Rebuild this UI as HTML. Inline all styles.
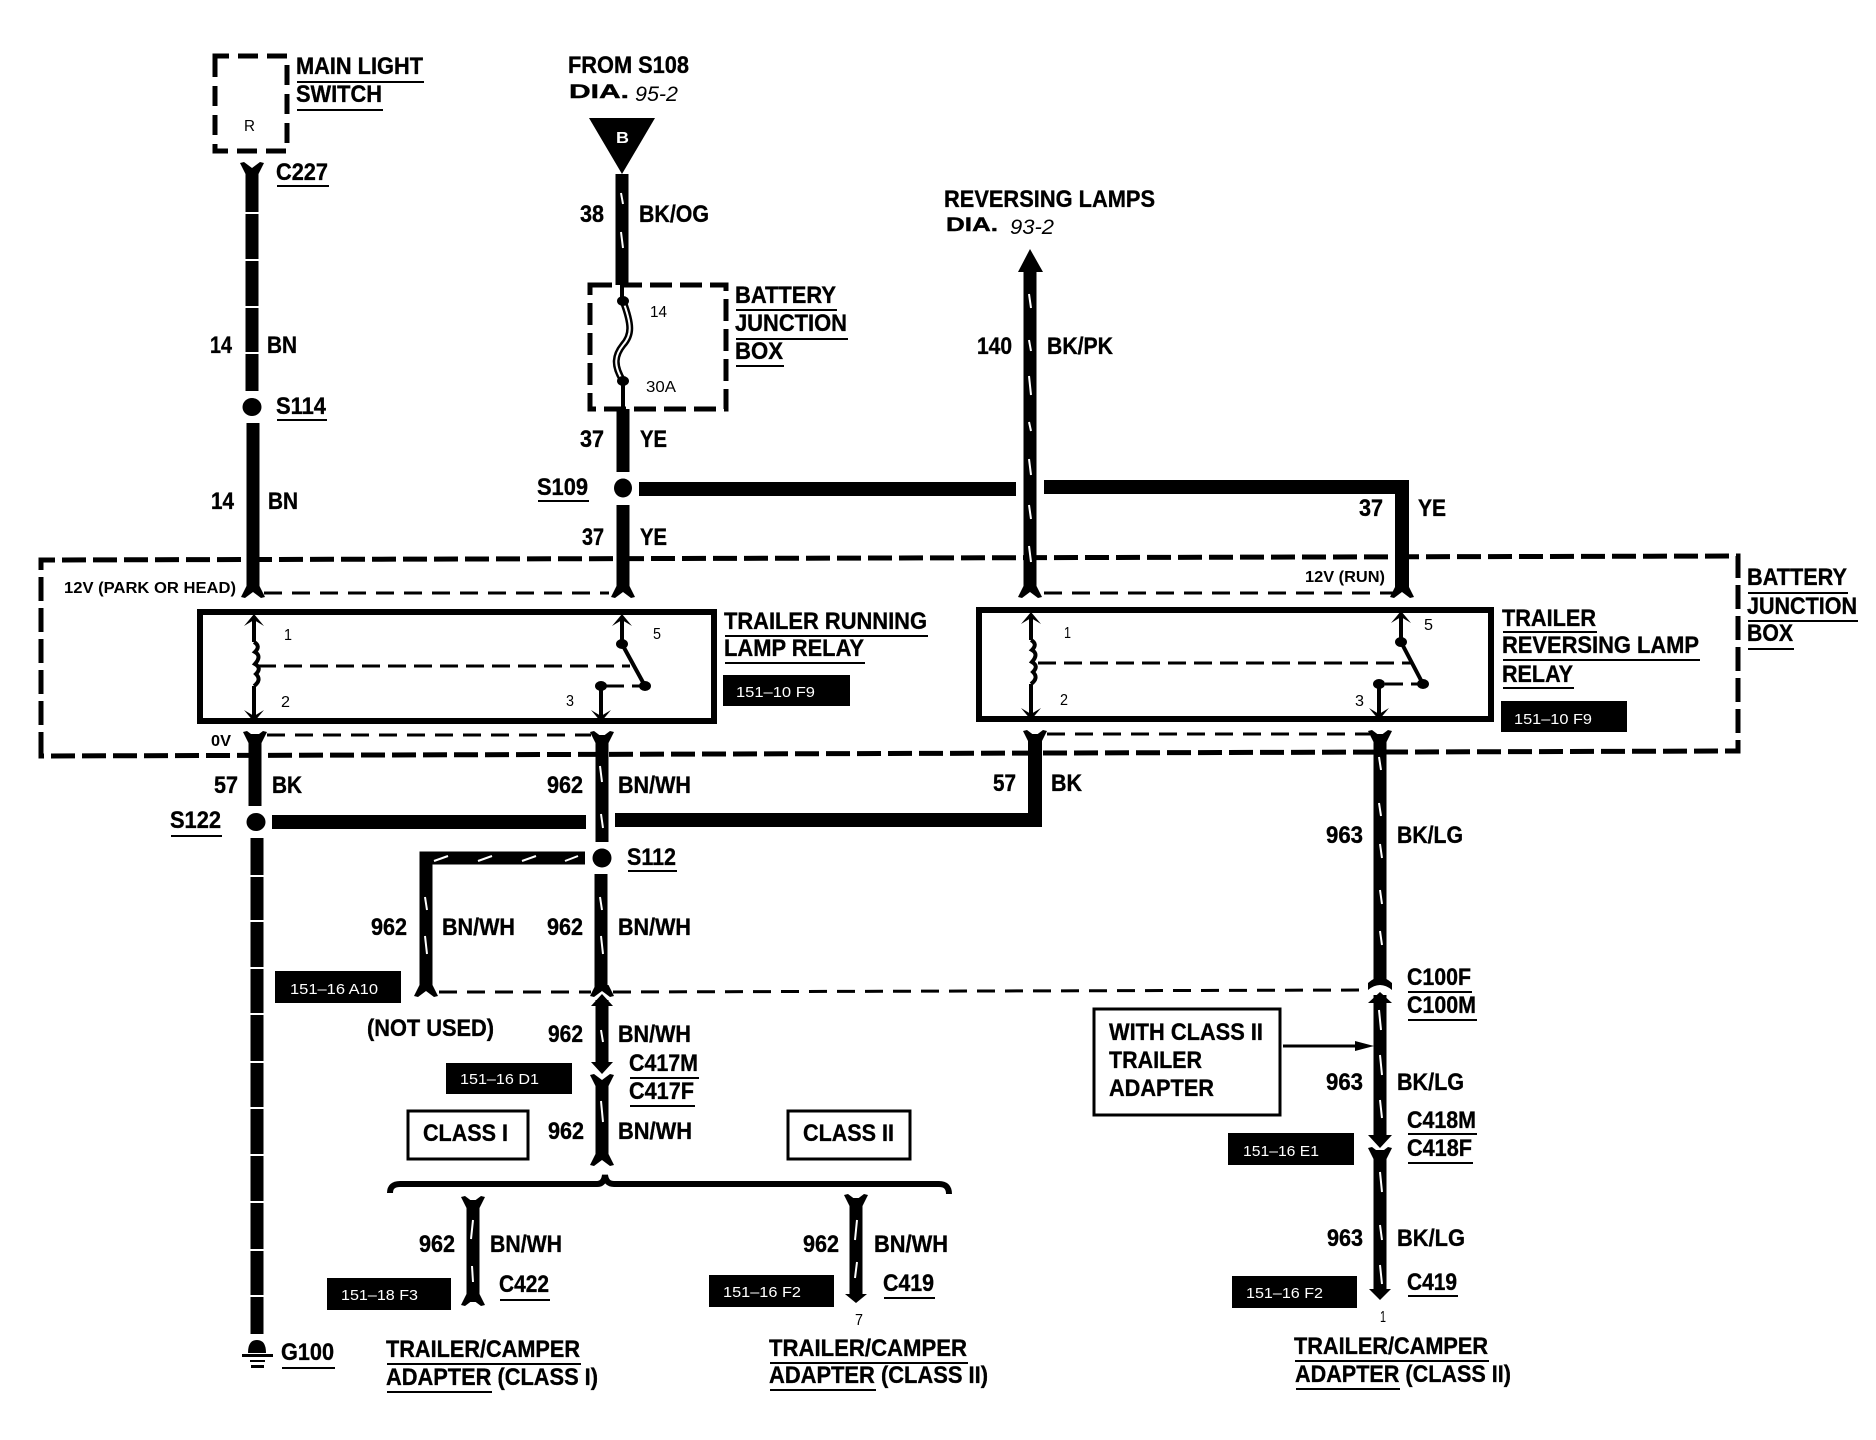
<!DOCTYPE html>
<html><head><meta charset="utf-8"><title>Trailer wiring diagram</title>
<style>
html,body{margin:0;padding:0;background:#fff}
svg{display:block}
text{font-family:"Liberation Sans",sans-serif;fill:#000}
.t{font-size:24px;font-weight:bold;stroke:#000;stroke-width:.35px}
.m{font-size:19px;font-weight:bold;stroke:#000;stroke-width:.4px}
.s{font-size:16px}
.b{font-size:15px;fill:#fff}
.i{font-size:21px;font-style:italic}
</style></head><body>
<svg width="1876" height="1440" viewBox="0 0 1876 1440" xmlns="http://www.w3.org/2000/svg">
<defs>
<path id="ft" d="M-12,-7 L-8,-8 L0,-2 L8,-8 L12,-7 L6.5,4 L-6.5,4Z"/>
<path id="fb" d="M-12,7 L-8,8 L0,2 L8,8 L12,7 L6.5,-4 L-6.5,-4Z"/>
</defs>
<rect width="1876" height="1440" fill="#fff"/>

<!-- dashed boxes -->
<g fill="none" stroke="#000">
<path d="M215,62 V56 H287 V151 H215 Z" stroke-width="5" stroke-dasharray="20 9"/>
<path d="M590,285 H726 V409 H590 Z" stroke-width="5" stroke-dasharray="22 8"/>
<path d="M41,756 V560 L1738,556 V751 Z" stroke-width="5" stroke-dasharray="24 7"/>
<path d="M264,593 H609 M1044,593 H1395 M267,735 H591 M1047,734 H1370 M439,992 H591 M613,992 L1368,990" stroke-width="3" stroke-dasharray="18 10"/>
<path d="M258,666 H630 M1038,663 H1413 M606,686 H640 M1385,684 H1418" stroke-width="3" stroke-dasharray="18 8"/>
</g>

<!-- relays & boxes -->
<g fill="none" stroke="#000">
<rect x="200" y="612" width="514" height="109" stroke-width="6"/>
<rect x="979" y="610" width="512" height="109" stroke-width="6"/>
<rect x="408" y="1111" width="120" height="48" stroke-width="3"/>
<rect x="788" y="1111" width="122" height="48" stroke-width="3"/>
<rect x="1094" y="1009" width="186" height="106" stroke-width="3"/>
</g>

<!-- thick wires -->
<g stroke="#000" fill="none">
<path stroke-width="13" d="M252,168 V391 M253,423 V592"/>
<path stroke-width="13" d="M622,174 V285 M623,409 V472 M623,505 V592"/>
<path stroke-width="13" d="M1030,270 V592"/>
<path stroke-width="14" d="M639,489 H1016 M1044,487 H1402 V592"/>
<path stroke-width="13" d="M255,734 V806 M257,838 V1334"/>
<path stroke-width="13" d="M602,735 V842 M601,874 V991"/>
<path stroke-width="14" d="M272,822 H586 M615,820 H1035 V734"/>
<path stroke-width="13" d="M585,858 H426 V991"/>
<path stroke-width="13" d="M602,1000 V1064 M602,1083 V1160"/>
<path stroke-width="13" d="M473,1200 V1302 M856,1198 V1296"/>
<path stroke-width="13" d="M1380,734 V984 M1380,995 V1137 M1380,1150 V1291"/>
<path stroke-width="6" d="M390,1193 Q390,1184 400,1184 H597 Q604,1184 605,1175 Q606,1184 614,1184 H939 Q949,1184 949,1194"/>
<path stroke-width="4" d="M622,285 V301 M623,381 V409"/>
<path stroke-width="7" d="M623,301 C632,325 632,335 623,345 C615,355 613,365 623,381"/>
<path stroke-width="2" stroke="#fff" d="M623,301 C632,325 632,335 623,345 C615,355 613,365 623,381"/>
<path stroke-width="4" d="M254,618 V642 M254,686 V716 M622,618 V644 M601,686 V718 M1031,616 V640 M1031,684 V714 M1401,614 V642 M1379,684 V716"/>
<path stroke-width="4" d="M622,644 L645,686 M1401,642 L1423,684"/>
<path stroke-width="4" d="M254,642 q7,4 1,10 q7,4 0,12 q7,4 1,10 q6,6 -2,12 M1031,640 q7,4 1,10 q7,4 0,12 q7,4 1,10 q6,6 -2,12"/>
<path stroke-width="3" d="M1283,1046 H1358"/>
</g>
<!-- wire gaps -->
<g stroke="#fff" stroke-width="2">
<path d="M240,213 H264 M240,260 H264 M240,307 H264 M240,353 H264"/>
<path d="M247,876 H268 M247,921 H268 M247,968 H268 M247,1014 H268 M247,1062 H268 M247,1108 H268 M247,1155 H268 M247,1202 H268 M247,1250 H268 M247,1296 H268"/>
</g>
<!-- white slashes -->
<g stroke="#fff" stroke-width="2" fill="none">
<path d="M621,193 L623,204 M621,232 L623,248"/>
<path d="M1029,294 L1031,308 M1029,340 L1031,351 M1029,376 L1031,395 M1029,422 L1031,431 M1029,459 L1031,475 M1029,505 L1031,519 M1029,546 L1031,562"/>
<path d="M600,766 L602,782 M601,814 L603,828 M600,897 L602,910 M601,936 L603,954"/>
<path d="M425,897 L427,910 M425,936 L427,954"/>
<path d="M434,861 L448,856 M478,861 L492,856 M522,861 L536,856 M565,861 L578,856"/>
<path d="M601,1030 L603,1042 M601,1101 L603,1122"/>
<path d="M473,1220 L471,1239 M472,1266 L473,1282 M857,1220 L855,1240 M857,1262 L855,1278"/>
<path d="M1379,757 L1381,770 M1379,803 L1381,816 M1380,844 L1382,858 M1380,890 L1382,904 M1380,931 L1382,945 M1379,1010 L1381,1030 M1380,1055 L1382,1075 M1380,1100 L1382,1118 M1380,1172 L1382,1192 M1380,1225 L1382,1240 M1380,1265 L1382,1284"/>
</g>
<!-- forks, arrowheads, dots -->
<g fill="#000">
<use href="#ft" x="252" y="170"/>
<use href="#fb" x="253" y="590"/>
<use href="#fb" x="623" y="590"/>
<use href="#fb" x="1030" y="590"/>
<use href="#fb" x="1402" y="590"/>
<use href="#ft" x="255" y="739"/>
<use href="#ft" x="602" y="739"/>
<use href="#ft" x="1035" y="738"/>
<use href="#ft" x="1380" y="738"/>
<use href="#fb" x="426" y="989"/>
<use href="#fb" x="602" y="989"/>
<use href="#ft" x="602" y="1082"/>
<use href="#fb" x="602" y="1158"/>
<use href="#ft" x="473" y="1204"/>
<use href="#fb" x="473" y="1298"/>
<use href="#ft" x="856" y="1202"/>
<use href="#ft" x="1380" y="1155"/>
<path d="M1368,983 Q1380,972 1392,983 L1392,990 Q1380,980 1368,990Z"/>
<path d="M589,118 H655 L622,174Z"/>
<path d="M1030,249 L1043,272 H1018Z"/>
<path d="M602,994 L613,1006 H591Z"/>
<path d="M591,1062 H613 L602,1074Z"/>
<path d="M1380,992 L1392,1003 H1368Z"/>
<path d="M1368,1135 H1392 L1380,1148Z"/>
<path d="M1369,1289 H1391 L1380,1300Z"/>
<path d="M845,1294 H867 L856,1303Z"/>
<path d="M1355,1041 L1374,1046 L1355,1051Z"/>
<path d="M254,614 L264,626 L254,620 L244,626Z M254,722 L264,710 L254,716 L244,710Z"/>
<path d="M622,614 L632,626 L622,620 L612,626Z M601,722 L611,710 L601,716 L591,710Z"/>
<path d="M1031,612 L1041,624 L1031,618 L1021,624Z M1031,720 L1041,708 L1031,714 L1021,708Z"/>
<path d="M1401,611 L1411,623 L1401,617 L1391,623Z M1379,720 L1389,708 L1379,714 L1369,708Z"/>
<ellipse cx="252" cy="407" rx="9.5" ry="9"/>
<ellipse cx="623" cy="488" rx="9" ry="9.5"/>
<ellipse cx="256" cy="822" rx="9.5" ry="9"/>
<ellipse cx="602" cy="858" rx="9.5" ry="9.5"/>
<ellipse cx="623" cy="301" rx="6" ry="5"/>
<ellipse cx="623" cy="381" rx="6" ry="5"/>
<ellipse cx="622" cy="644" rx="6" ry="5"/>
<ellipse cx="645" cy="686" rx="6" ry="5"/>
<ellipse cx="601" cy="686" rx="6" ry="5"/>
<ellipse cx="1401" cy="642" rx="6" ry="5"/>
<ellipse cx="1423" cy="684" rx="6" ry="5"/>
<ellipse cx="1379" cy="684" rx="6" ry="5"/>
<path d="M248,1353 Q248,1340 257,1340 Q266,1340 266,1353Z"/>
<rect x="242" y="1354" width="31" height="3"/>
<rect x="250" y="1360" width="15" height="2"/>
<rect x="251" y="1365" width="13" height="3"/>
<rect x="723" y="675" width="127" height="31"/>
<rect x="1501" y="701" width="126" height="31"/>
<rect x="275" y="971" width="126" height="32"/>
<rect x="446" y="1063" width="126" height="31"/>
<rect x="327" y="1278" width="124" height="32"/>
<rect x="709" y="1275" width="125" height="32"/>
<rect x="1228" y="1133" width="126" height="32"/>
<rect x="1232" y="1276" width="125" height="32"/>
</g>
<!-- underlines -->
<path fill="none" stroke="#000" stroke-width="2" d="M297,82 H424 M297,110 H383 M277,186 H329 M277,420 H327 M538,501 H589 M736,310 H837 M736,339 H848 M736,366 H784 M725,636 H928 M725,663 H865 M1503,632 H1597 M1503,660 H1700 M1503,688 H1574 M1748,593 H1848 M1748,621 H1858 M1748,649 H1794 M171,836 H222 M628,871 H677 M630,1078 H699 M630,1106 H695 M500,1300 H550 M884,1298 H935 M282,1368 H335 M387,1364 H581 M387,1392 H492 M770,1363 H968 M770,1390 H876 M1408,992 H1472 M1408,1020 H1477 M1408,1134 H1477 M1408,1163 H1473 M1408,1296 H1458 M1295,1361 H1489 M1296,1389 H1400"/>

<!-- labels -->
<g transform="translate(-1,0)">
<text class="t" x="297" y="74" textLength="127" lengthAdjust="spacingAndGlyphs">MAIN LIGHT</text>
<text class="t" x="297" y="102" textLength="86" lengthAdjust="spacingAndGlyphs">SWITCH</text>
<text class="s" x="245" y="131" textLength="11" lengthAdjust="spacingAndGlyphs">R</text>
<text class="t" x="569" y="73" textLength="121" lengthAdjust="spacingAndGlyphs">FROM S108</text>
<text class="m" x="570" y="98" textLength="60" lengthAdjust="spacingAndGlyphs">DIA.</text>
<text class="i" x="636" y="101" textLength="43" lengthAdjust="spacingAndGlyphs">95-2</text>
<text class="s" x="617" y="143" textLength="13" lengthAdjust="spacingAndGlyphs" style="fill:#fff;font-weight:bold">B</text>
<text class="t" x="277" y="180" textLength="52" lengthAdjust="spacingAndGlyphs">C227</text>
<text class="t" x="211" y="353" textLength="22" lengthAdjust="spacingAndGlyphs">14</text>
<text class="t" x="268" y="353" textLength="30" lengthAdjust="spacingAndGlyphs">BN</text>
<text class="t" x="277" y="414" textLength="50" lengthAdjust="spacingAndGlyphs">S114</text>
<text class="t" x="212" y="509" textLength="23" lengthAdjust="spacingAndGlyphs">14</text>
<text class="t" x="269" y="509" textLength="30" lengthAdjust="spacingAndGlyphs">BN</text>
<text class="t" x="581" y="222" textLength="24" lengthAdjust="spacingAndGlyphs">38</text>
<text class="t" x="640" y="222" textLength="70" lengthAdjust="spacingAndGlyphs">BK/OG</text>
<text class="t" x="736" y="303" textLength="101" lengthAdjust="spacingAndGlyphs">BATTERY</text>
<text class="t" x="736" y="331" textLength="112" lengthAdjust="spacingAndGlyphs">JUNCTION</text>
<text class="t" x="736" y="359" textLength="48" lengthAdjust="spacingAndGlyphs">BOX</text>
<text class="s" x="651" y="317" textLength="17" lengthAdjust="spacingAndGlyphs">14</text>
<text class="s" x="647" y="392" textLength="30" lengthAdjust="spacingAndGlyphs">30A</text>
<text class="t" x="581" y="447" textLength="24" lengthAdjust="spacingAndGlyphs">37</text>
<text class="t" x="641" y="447" textLength="27" lengthAdjust="spacingAndGlyphs">YE</text>
<text class="t" x="538" y="495" textLength="51" lengthAdjust="spacingAndGlyphs">S109</text>
<text class="t" x="583" y="545" textLength="22" lengthAdjust="spacingAndGlyphs">37</text>
<text class="t" x="641" y="545" textLength="27" lengthAdjust="spacingAndGlyphs">YE</text>
<text class="t" x="1360" y="516" textLength="24" lengthAdjust="spacingAndGlyphs">37</text>
<text class="t" x="1419" y="516" textLength="28" lengthAdjust="spacingAndGlyphs">YE</text>
<text class="t" x="945" y="207" textLength="211" lengthAdjust="spacingAndGlyphs">REVERSING LAMPS</text>
<text class="m" x="947" y="231" textLength="52" lengthAdjust="spacingAndGlyphs">DIA.</text>
<text class="i" x="1011" y="234" textLength="44" lengthAdjust="spacingAndGlyphs">93-2</text>
<text class="t" x="978" y="354" textLength="35" lengthAdjust="spacingAndGlyphs">140</text>
<text class="t" x="1048" y="354" textLength="66" lengthAdjust="spacingAndGlyphs">BK/PK</text>
<text class="s" x="65" y="593" textLength="172" lengthAdjust="spacingAndGlyphs" style="font-weight:bold">12V (PARK OR HEAD)</text>
<text class="s" x="1306" y="582" textLength="80" lengthAdjust="spacingAndGlyphs" style="font-weight:bold">12V (RUN)</text>
<text class="s" x="285" y="640" textLength="8" lengthAdjust="spacingAndGlyphs">1</text>
<text class="s" x="282" y="707" textLength="9" lengthAdjust="spacingAndGlyphs">2</text>
<text class="s" x="654" y="639" textLength="8" lengthAdjust="spacingAndGlyphs">5</text>
<text class="s" x="567" y="706" textLength="8" lengthAdjust="spacingAndGlyphs">3</text>
<text class="s" x="1065" y="638" textLength="7" lengthAdjust="spacingAndGlyphs">1</text>
<text class="s" x="1061" y="705" textLength="8" lengthAdjust="spacingAndGlyphs">2</text>
<text class="s" x="1425" y="630" textLength="9" lengthAdjust="spacingAndGlyphs">5</text>
<text class="s" x="1356" y="706" textLength="9" lengthAdjust="spacingAndGlyphs">3</text>
<text class="t" x="725" y="629" textLength="203" lengthAdjust="spacingAndGlyphs">TRAILER RUNNING</text>
<text class="t" x="725" y="656" textLength="140" lengthAdjust="spacingAndGlyphs">LAMP RELAY</text>
<text class="b" x="737" y="697" textLength="79" lengthAdjust="spacingAndGlyphs">151–10 F9</text>
<text class="t" x="1503" y="626" textLength="94" lengthAdjust="spacingAndGlyphs">TRAILER</text>
<text class="t" x="1503" y="653" textLength="197" lengthAdjust="spacingAndGlyphs">REVERSING LAMP</text>
<text class="t" x="1503" y="682" textLength="71" lengthAdjust="spacingAndGlyphs">RELAY</text>
<text class="b" x="1515" y="724" textLength="78" lengthAdjust="spacingAndGlyphs">151–10 F9</text>
<text class="t" x="1748" y="585" textLength="100" lengthAdjust="spacingAndGlyphs">BATTERY</text>
<text class="t" x="1748" y="614" textLength="110" lengthAdjust="spacingAndGlyphs">JUNCTION</text>
<text class="t" x="1748" y="641" textLength="46" lengthAdjust="spacingAndGlyphs">BOX</text>
<text class="s" x="212" y="746" textLength="20" lengthAdjust="spacingAndGlyphs" style="font-weight:bold">0V</text>
<text class="t" x="215" y="793" textLength="24" lengthAdjust="spacingAndGlyphs">57</text>
<text class="t" x="273" y="793" textLength="30" lengthAdjust="spacingAndGlyphs">BK</text>
<text class="t" x="548" y="793" textLength="36" lengthAdjust="spacingAndGlyphs">962</text>
<text class="t" x="619" y="793" textLength="73" lengthAdjust="spacingAndGlyphs">BN/WH</text>
<text class="t" x="994" y="791" textLength="23" lengthAdjust="spacingAndGlyphs">57</text>
<text class="t" x="1052" y="791" textLength="31" lengthAdjust="spacingAndGlyphs">BK</text>
<text class="t" x="171" y="828" textLength="51" lengthAdjust="spacingAndGlyphs">S122</text>
<text class="t" x="628" y="865" textLength="49" lengthAdjust="spacingAndGlyphs">S112</text>
<text class="t" x="372" y="935" textLength="36" lengthAdjust="spacingAndGlyphs">962</text>
<text class="t" x="443" y="935" textLength="73" lengthAdjust="spacingAndGlyphs">BN/WH</text>
<text class="t" x="548" y="935" textLength="36" lengthAdjust="spacingAndGlyphs">962</text>
<text class="t" x="619" y="935" textLength="73" lengthAdjust="spacingAndGlyphs">BN/WH</text>
<text class="b" x="291" y="994" textLength="88" lengthAdjust="spacingAndGlyphs">151–16 A10</text>
<text class="t" x="368" y="1036" textLength="127" lengthAdjust="spacingAndGlyphs">(NOT USED)</text>
<text class="t" x="549" y="1042" textLength="35" lengthAdjust="spacingAndGlyphs">962</text>
<text class="t" x="619" y="1042" textLength="73" lengthAdjust="spacingAndGlyphs">BN/WH</text>
<text class="t" x="630" y="1071" textLength="69" lengthAdjust="spacingAndGlyphs">C417M</text>
<text class="t" x="630" y="1099" textLength="65" lengthAdjust="spacingAndGlyphs">C417F</text>
<text class="b" x="461" y="1084" textLength="79" lengthAdjust="spacingAndGlyphs">151–16 D1</text>
<text class="t" x="424" y="1141" textLength="85" lengthAdjust="spacingAndGlyphs">CLASS I</text>
<text class="t" x="549" y="1139" textLength="36" lengthAdjust="spacingAndGlyphs">962</text>
<text class="t" x="619" y="1139" textLength="74" lengthAdjust="spacingAndGlyphs">BN/WH</text>
<text class="t" x="804" y="1141" textLength="91" lengthAdjust="spacingAndGlyphs">CLASS II</text>
<text class="t" x="420" y="1252" textLength="36" lengthAdjust="spacingAndGlyphs">962</text>
<text class="t" x="491" y="1252" textLength="72" lengthAdjust="spacingAndGlyphs">BN/WH</text>
<text class="t" x="500" y="1292" textLength="50" lengthAdjust="spacingAndGlyphs">C422</text>
<text class="b" x="342" y="1300" textLength="77" lengthAdjust="spacingAndGlyphs">151–18 F3</text>
<text class="t" x="804" y="1252" textLength="36" lengthAdjust="spacingAndGlyphs">962</text>
<text class="t" x="875" y="1252" textLength="74" lengthAdjust="spacingAndGlyphs">BN/WH</text>
<text class="t" x="884" y="1291" textLength="51" lengthAdjust="spacingAndGlyphs">C419</text>
<text class="b" x="724" y="1297" textLength="78" lengthAdjust="spacingAndGlyphs">151–16 F2</text>
<text class="s" x="856" y="1325" textLength="8" lengthAdjust="spacingAndGlyphs">7</text>
<text class="t" x="282" y="1360" textLength="53" lengthAdjust="spacingAndGlyphs">G100</text>
<text class="t" x="387" y="1357" textLength="194" lengthAdjust="spacingAndGlyphs">TRAILER/CAMPER</text>
<text class="t" x="387" y="1385" textLength="212" lengthAdjust="spacingAndGlyphs">ADAPTER (CLASS I)</text>
<text class="t" x="770" y="1356" textLength="198" lengthAdjust="spacingAndGlyphs">TRAILER/CAMPER</text>
<text class="t" x="770" y="1383" textLength="219" lengthAdjust="spacingAndGlyphs">ADAPTER (CLASS II)</text>
<text class="t" x="1327" y="843" textLength="37" lengthAdjust="spacingAndGlyphs">963</text>
<text class="t" x="1398" y="843" textLength="66" lengthAdjust="spacingAndGlyphs">BK/LG</text>
<text class="t" x="1408" y="985" textLength="64" lengthAdjust="spacingAndGlyphs">C100F</text>
<text class="t" x="1408" y="1013" textLength="69" lengthAdjust="spacingAndGlyphs">C100M</text>
<text class="t" x="1110" y="1040" textLength="154" lengthAdjust="spacingAndGlyphs">WITH CLASS II</text>
<text class="t" x="1110" y="1068" textLength="93" lengthAdjust="spacingAndGlyphs">TRAILER</text>
<text class="t" x="1110" y="1096" textLength="105" lengthAdjust="spacingAndGlyphs">ADAPTER</text>
<text class="t" x="1327" y="1090" textLength="37" lengthAdjust="spacingAndGlyphs">963</text>
<text class="t" x="1398" y="1090" textLength="67" lengthAdjust="spacingAndGlyphs">BK/LG</text>
<text class="t" x="1408" y="1128" textLength="69" lengthAdjust="spacingAndGlyphs">C418M</text>
<text class="t" x="1408" y="1156" textLength="65" lengthAdjust="spacingAndGlyphs">C418F</text>
<text class="b" x="1244" y="1156" textLength="76" lengthAdjust="spacingAndGlyphs">151–16 E1</text>
<text class="t" x="1328" y="1246" textLength="36" lengthAdjust="spacingAndGlyphs">963</text>
<text class="t" x="1398" y="1246" textLength="68" lengthAdjust="spacingAndGlyphs">BK/LG</text>
<text class="t" x="1408" y="1290" textLength="50" lengthAdjust="spacingAndGlyphs">C419</text>
<text class="b" x="1247" y="1298" textLength="77" lengthAdjust="spacingAndGlyphs">151–16 F2</text>
<text class="s" x="1381" y="1322" textLength="6" lengthAdjust="spacingAndGlyphs">1</text>
<text class="t" x="1295" y="1354" textLength="194" lengthAdjust="spacingAndGlyphs">TRAILER/CAMPER</text>
<text class="t" x="1296" y="1382" textLength="216" lengthAdjust="spacingAndGlyphs">ADAPTER (CLASS II)</text>
</g>
</svg>
</body></html>
